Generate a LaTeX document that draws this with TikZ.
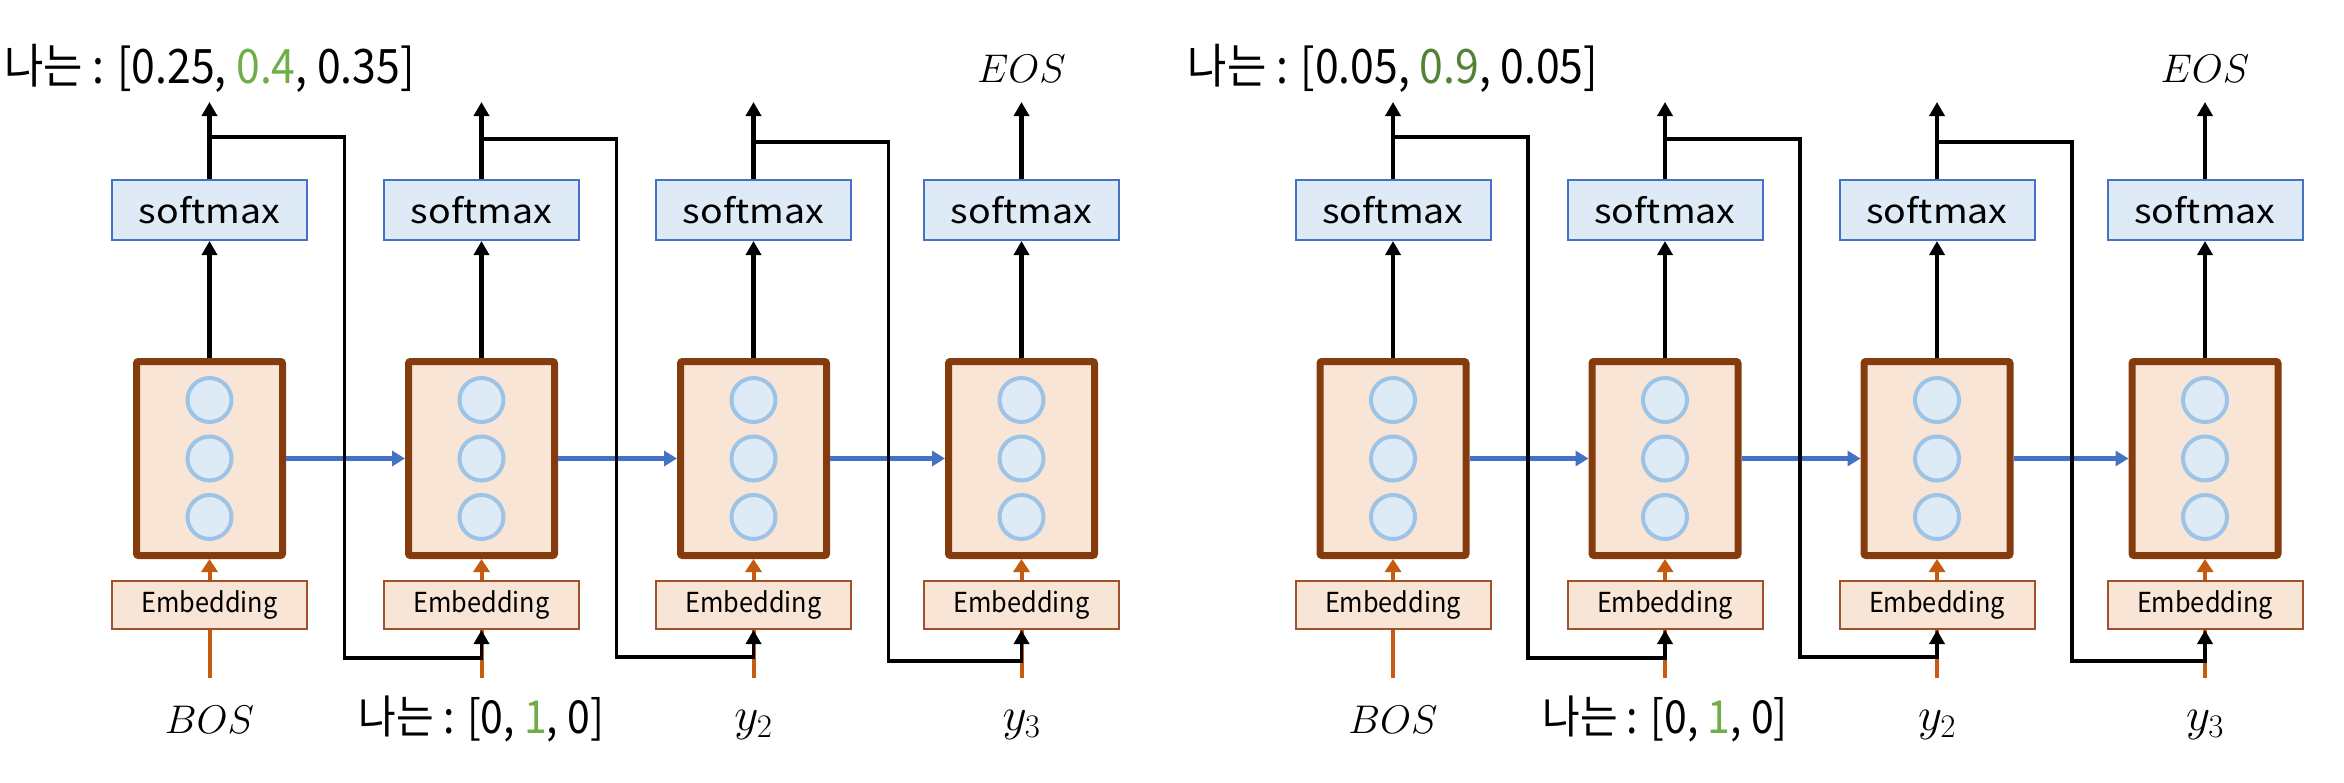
\documentclass[tikz,border=0pt]{standalone}
\usepackage{fix-cm}
\usepackage{fontspec}
\newfontfamily\krfont[FakeStretch=0.9]{Noto Sans CJK KR}
\newfontfamily\smfont[FakeStretch=1.12]{Noto Sans CJK KR}
\newfontfamily\embfont[FakeStretch=0.92]{Noto Sans CJK KR}
\usetikzlibrary{arrows.meta}
\definecolor{smfill}{HTML}{DEEBF7}
\definecolor{smdraw}{HTML}{4472C4}
\definecolor{rnnfill}{HTML}{F8E5D6}
\definecolor{rnndraw}{HTML}{843C0C}
\definecolor{cfill}{HTML}{DEEBF7}
\definecolor{cdraw}{HTML}{9DC3E6}
\definecolor{blu}{HTML}{4472C4}
\definecolor{org}{HTML}{C55A11}
\definecolor{embdraw}{HTML}{A0522D}
\definecolor{grnA}{HTML}{70AD47}
\definecolor{grnB}{HTML}{548235}
\tikzset{
  smbox/.style={draw=smdraw, fill=smfill, line width=2pt, minimum width=195pt, minimum height=60pt, inner sep=0pt, font=\smfont\fontsize{33.5}{33.5}\selectfont},
  rnnbox/.style={draw=rnndraw, fill=rnnfill, line width=7pt, rounded corners=2pt, minimum width=146pt, minimum height=194pt, inner sep=0pt},
  unit/.style={circle, draw=cdraw, fill=cfill, line width=4pt, minimum size=44pt, inner sep=0pt},
  embbox/.style={draw=embdraw, fill=rnnfill, line width=2pt, minimum width=195pt, minimum height=48pt, inner sep=0pt, font=\embfont\fontsize{27.5}{27.5}\selectfont},
  blk/.style={line width=4.5pt, -{Triangle[width=15pt,length=14pt]}},
  orgarr/.style={draw=org, line width=4pt, -{Triangle[width=16pt,length=13pt]}},
  orgline/.style={draw=org, line width=4pt},
  bluarr/.style={draw=blu, line width=4.5pt, -{Triangle[width=15pt,length=13pt]}},
  fb/.style={line width=3.5pt, -{Triangle[width=15pt,length=14pt]}},
  toplab/.style={inner sep=0pt, font=\krfont\fontsize{47.5}{47.5}\selectfont},
  botlab/.style={inner sep=0pt, font=\krfont\fontsize{45.5}{45.5}\selectfont},
  mlab/.style={inner sep=0pt, font=\fontsize{40}{40}\selectfont},
  ylab/.style={inner sep=0pt, font=\fontsize{47}{47}\selectfont},
}
\begin{document}
\begin{tikzpicture}[x=1pt, y=-1pt]
\useasboundingbox[fill=white] (0,0) rectangle (2344,782);
\foreach \s/\o in {L/0,R/1183.5} {
  \foreach \i/\d in {1/0,2/272,3/544,4/812} {
    \pgfmathsetmacro\cx{209.5+\o+\d}
    \node[smbox] (sm\s\i) at (\cx,210) {softmax};
    \node[rnnbox] (rnn\s\i) at (\cx,458.5) {};
    \node[unit] (ua\s\i) at (\cx,400) {};
    \node[unit] (ub\s\i) at (\cx,458.5) {};
    \node[unit] (uc\s\i) at (\cx,517) {};
    \node[embbox] (emb\s\i) at (\cx,605) {Embedding};
    \coordinate (out\s\i) at (\cx,102);
    \coordinate (in\s\i) at (\cx,678);
    \draw[blk] (rnn\s\i.north) -- (sm\s\i.south);
    \draw[blk] (sm\s\i.north) -- (out\s\i);
    \draw[orgarr] (emb\s\i.north) -- (rnn\s\i.south);
    \draw[orgline] (in\s\i) -- (emb\s\i.south);
  }
  \foreach \i/\j/\t/\b in {1/2/137/658, 2/3/139/657, 3/4/142/661} {
    \draw[bluarr] (rnn\s\i.east) -- (rnn\s\j.west);
    \coordinate (fbs\s\i) at (sm\s\i.north |- 0,\t);
    \coordinate (fbb\s\i) at ([xshift=135pt]sm\s\i.north |- 0,\b);
    \draw[fb] (fbs\s\i) -| (fbb\s\i) -| (emb\s\j.south);
  }
}
% top labels
\node[toplab, anchor=base] (topL) at (209.5,83) {나는 : [0.25, \textcolor{grnA}{0.4}, 0.35]};
\node[toplab, anchor=base] (topR) at (1393,83) {나는 : [0.05, \textcolor{grnB}{0.9}, 0.05]};
\node[mlab, anchor=base] (eosL) at (1021.5,82) {$EOS$};
\node[mlab, anchor=base] (eosR) at (2205,82) {$EOS$};
% bottom labels
\node[mlab, anchor=base] (bosL) at (209.5,733) {$BOS$};
\node[botlab, anchor=base] (xL) at (481.5,733) {나는 : [0, \textcolor{grnA}{1}, 0]};
\node[ylab, anchor=base] (y2L) at (753.5,730) {$y_2$};
\node[ylab, anchor=base] (y3L) at (1021.5,730) {$y_3$};
\node[mlab, anchor=base] (bosR) at (1393,733) {$BOS$};
\node[botlab, anchor=base] (xR) at (1665,733) {나는 : [0, \textcolor{grnA}{1}, 0]};
\node[ylab, anchor=base] (y2R) at (1937,730) {$y_2$};
\node[ylab, anchor=base] (y3R) at (2205,730) {$y_3$};
\end{tikzpicture}
\end{document}
